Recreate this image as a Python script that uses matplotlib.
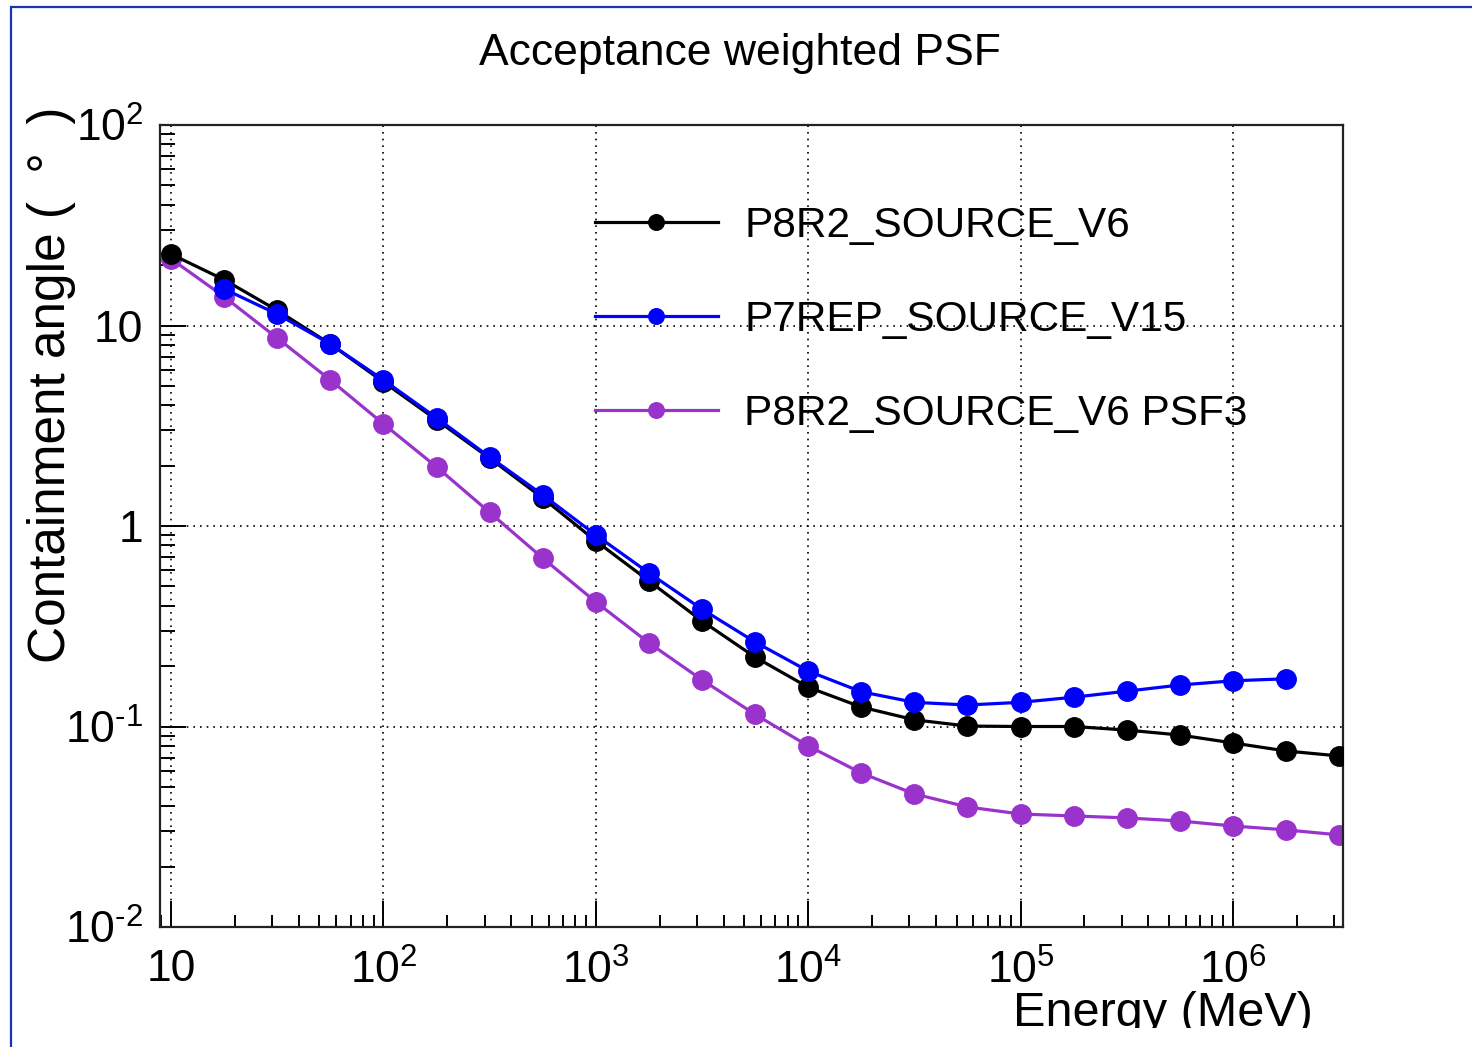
import matplotlib
matplotlib.use("Agg")
import matplotlib.pyplot as plt
from matplotlib.patches import Rectangle
from matplotlib.transforms import Bbox, TransformedBbox
from matplotlib.ticker import FixedLocator, FixedFormatter, LogLocator, NullFormatter

plt.rcParams['font.family'] = ['Liberation Sans', 'DejaVu Sans']
plt.rcParams['mathtext.fontset'] = 'custom'
plt.rcParams['mathtext.rm'] = 'Liberation Sans'
plt.rcParams['mathtext.it'] = 'Liberation Sans:italic'

# energies (MeV), 4 points per decade
energy = [10, 17.8, 31.6, 56.2, 100, 178, 316, 562, 1000, 1780, 3160, 5620,
          1e4, 1.78e4, 3.16e4, 5.62e4, 1e5, 1.78e5, 3.16e5, 5.62e5, 1e6, 1.78e6, 3.16e6]

p8r2_v6 = [22.7, 16.9, 11.9, 8.09, 5.23, 3.38, 2.18, 1.38, 0.842, 0.532, 0.336, 0.222,
           0.157, 0.125, 0.108, 0.1005, 0.100, 0.100, 0.096, 0.0907, 0.0828, 0.0755, 0.0713]

energy_p7 = energy[1:22]
p7rep_v15 = [15.2, 11.4, 8.09, 5.35, 3.46, 2.21, 1.43, 0.902, 0.583, 0.385, 0.264,
             0.189, 0.149, 0.132, 0.128, 0.132, 0.140, 0.150, 0.161, 0.169, 0.173]

p8r2_psf3 = [21.5, 13.9, 8.66, 5.35, 3.23, 1.97, 1.17, 0.692, 0.418, 0.261, 0.171, 0.115,
             0.080, 0.0586, 0.0461, 0.0397, 0.0366, 0.0358, 0.0350, 0.0338, 0.0319, 0.0305, 0.0288]

x_ticks = [10, 1e2, 1e3, 1e4, 1e5, 1e6]
x_labels = ['10', '$10^{2}$', '$10^{3}$', '$10^{4}$', '$10^{5}$', '$10^{6}$']
y_ticks = [1e-2, 1e-1, 1, 10, 1e2]
y_labels = ['$10^{\\text{-}2}$', '$10^{\\text{-}1}$', '1', '10', '$10^{2}$']

W, H = 1472, 1047
fig = plt.figure(figsize=(W / 100, H / 100), dpi=100)
ax = fig.add_axes([160 / W, 1 - 927 / H, (1343 - 160) / W, (927 - 125) / H])

purple = '#9933cc'
ax.plot(energy, p8r2_v6, color='black', lw=2.3, marker='o', ms=14, label='P8R2_SOURCE_V6', zorder=3)
ax.plot(energy_p7, p7rep_v15, color='#0000ff', lw=2.3, marker='o', ms=14, label='P7REP_SOURCE_V15', zorder=3)
ax.plot(energy, p8r2_psf3, color=purple, lw=2.3, marker='o', ms=14, label='P8R2_SOURCE_V6 PSF3', zorder=2)

ax.set_xscale('log')
ax.set_yscale('log')
ax.set_xlim(8.87, 3.3e6)
ax.set_ylim(1e-2, 1e2)

ax.xaxis.set_major_locator(FixedLocator(x_ticks))
ax.xaxis.set_major_formatter(FixedFormatter(x_labels))
ax.yaxis.set_major_locator(FixedLocator(y_ticks))
ax.yaxis.set_major_formatter(FixedFormatter(y_labels))
for axis in (ax.xaxis, ax.yaxis):
    axis.set_minor_locator(LogLocator(base=10, subs=range(2, 10), numticks=20))
    axis.set_minor_formatter(NullFormatter())

ax.tick_params(which='both', direction='in', top=False, right=False, labelsize=32, width=1.4)
ax.tick_params(axis='x', which='major', length=19, pad=16)
ax.tick_params(axis='x', which='minor', length=9)
ax.tick_params(axis='y', which='major', length=19, pad=12)
ax.tick_params(axis='y', which='minor', length=11)
for s in ax.spines.values():
    s.set_linewidth(1.6)
    s.set_color('#222222')

ax.grid(True, which='major', color='black', linestyle=(0, (1, 3)), lw=1.2)

ax.legend(loc='upper left', bbox_to_anchor=(595 / W, 1 - 206 / H), bbox_transform=fig.transFigure,
          frameon=False, fontsize=30.5, handlelength=2.9, handletextpad=0.62, labelspacing=1.27,
          numpoints=1, markerscale=0.8, borderaxespad=0, borderpad=0)

fig.text(740 / W, 1 - 54 / H, 'Acceptance weighted PSF', ha='center', va='center', fontsize=32)
fig.text(52 / W, 1 - 385 / H, 'Containment angle (  \u00b0  )', rotation=90, ha='center', va='center', fontsize=37)
xl = fig.text(1313 / W, 1 - 1026 / H, 'Energy (MeV)', ha='right', va='baseline', fontsize=35)
xl.set_clip_box(TransformedBbox(Bbox([[0, 19 / H], [1, 1]]), fig.transFigure))
xl.set_clip_on(True)

fig.patches.append(Rectangle((11 / W, -0.1), 2, 1.1 - 7 / H, transform=fig.transFigure,
                             fill=False, edgecolor='#1a33b3', lw=1.6, figure=fig))

fig.savefig('out.png', dpi=100)
